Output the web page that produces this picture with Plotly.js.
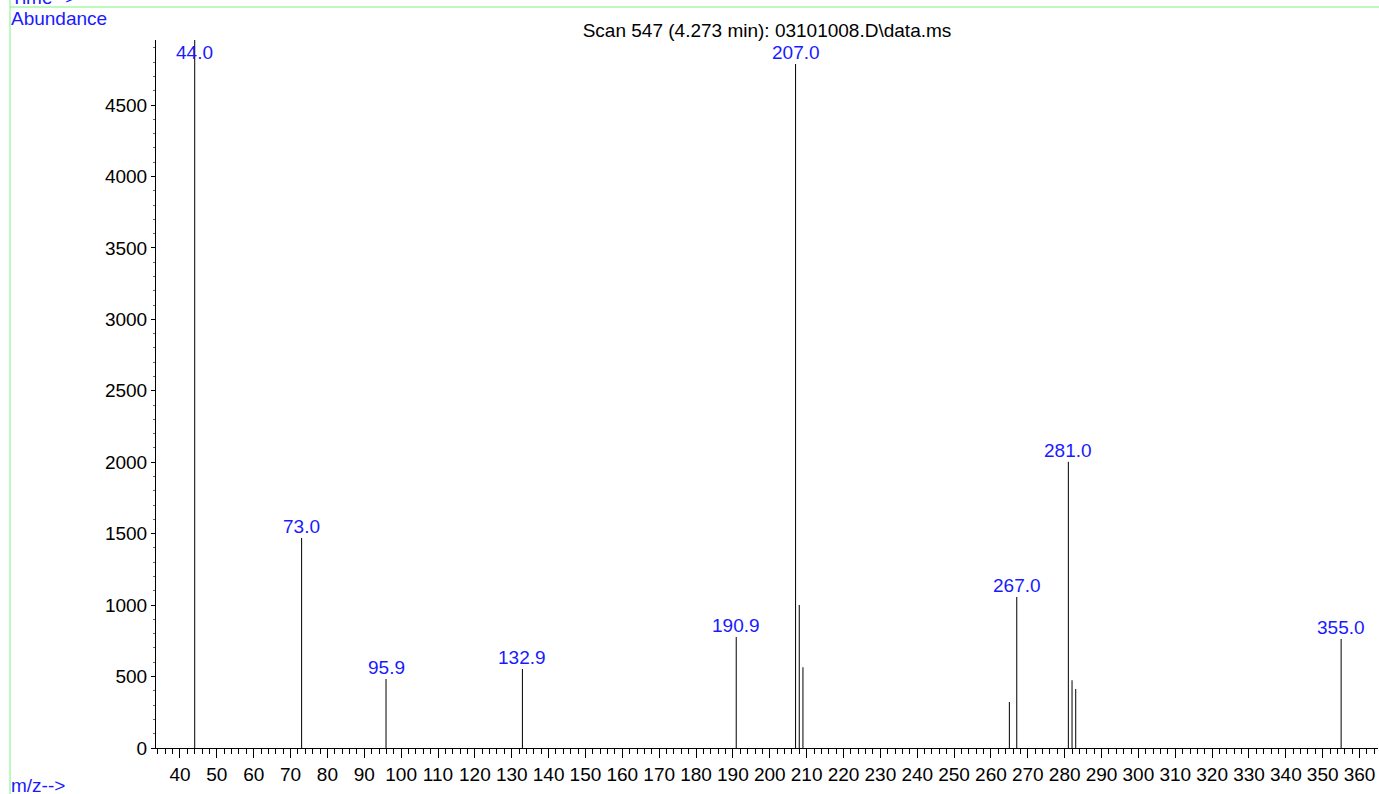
<!DOCTYPE html>
<html>
<head>
<meta charset="utf-8">
<script src="https://cdn.plot.ly/plotly-3.0.1.min.js"></script>
<style>
  html, body { margin: 0; padding: 0; background: #fff; }
  #chart { width: 1379px; height: 794px; }
</style>
</head>
<body>
<div id="chart"></div>
<script>
// Peak list (m/z, abundance)
const mz = [44.0, 73.0, 95.9, 132.9, 190.9, 207.0, 208.0, 209.0, 265.0, 267.0, 281.0, 282.0, 283.0, 355.0];
const abundance = [4955, 1470, 483, 553, 777, 4787, 1001, 565, 322, 1057, 2003, 474, 413, 763];
const labelled = [44.0, 73.0, 95.9, 132.9, 190.9, 207.0, 267.0, 281.0, 355.0];
const yTicks = [0, 500, 1000, 1500, 2000, 2500, 3000, 3500, 4000, 4500];
const xTicks = [40, 50, 60, 70, 80, 90, 100, 110, 120, 130, 140, 150, 160, 170, 180, 190, 200,
                210, 220, 230, 240, 250, 260, 270, 280, 290, 300, 310, 320, 330, 340, 350, 360];

const W = 1379, H = 794;
const M = {l: 156, r: 1, t: 40, b: 46};
const FONT = 'Liberation Sans, Arial, sans-serif';
const FS = 19;
const BLUE = '#1a1aff';
const GREEN = '#7cf27c';

// pixel -> paper helpers for the decorations outside the plot
const px = x => (x - M.l) / (W - M.l - M.r);
const py = y => (H - M.b - y) / (H - M.t - M.b);

// stick spectrum: one vertical segment per peak
const xs = mz.flatMap(m => [m, m, null]);
const ys = abundance.flatMap(a => [0, a, null]);

const yMax = 4955;
const labelCap = 4790;

const peakLabels = labelled.map(m => {
    const a = abundance[mz.indexOf(m)];
    return {
        x: m, y: Math.min(a, labelCap),
        xref: 'x', yref: 'y',
        text: m.toFixed(1),
        showarrow: false,
        xanchor: 'center', yanchor: 'bottom', yshift: -1,
        font: {family: FONT, size: FS, color: BLUE}
    };
});

const textNotes = [
    {text: 'Time-->', x: px(9), y: py(-3)},
    {text: 'Abundance', x: px(9), y: py(18)},
    {text: 'm/z-->', x: px(9), y: py(785)}
].map(n => Object.assign({
    xref: 'paper', yref: 'paper', showarrow: false,
    xanchor: 'left', yanchor: 'middle',
    font: {family: FONT, size: FS, color: BLUE}
}, n));

Plotly.newPlot('chart', [{
    x: xs,
    y: ys,
    type: 'scatter',
    mode: 'lines',
    line: {color: '#000', width: 1},
    hoverinfo: 'skip',
    showlegend: false
}], {
    width: W,
    height: H,
    margin: M,
    paper_bgcolor: '#fff',
    plot_bgcolor: '#fff',
    font: {family: FONT, size: FS, color: '#000'},
    title: {
        text: 'Scan 547 (4.273 min): 03101008.D\\data.ms',
        x: 0.5, xref: 'paper', xanchor: 'center',
        y: 1 - 30 / H, yanchor: 'middle',
        font: {family: FONT, size: FS, color: '#000'}
    },
    xaxis: {
        range: [33.5, 365],
        tickmode: 'array',
        tickvals: xTicks,
        ticktext: xTicks.map(String),
        ticks: 'outside', ticklen: 9, tickwidth: 1, tickcolor: '#000',
        minor: {dtick: 2, tick0: 0, ticks: 'outside', ticklen: 5, tickwidth: 1, tickcolor: '#000', showgrid: false},
        showline: true, linecolor: '#000', linewidth: 1,
        showgrid: false, zeroline: false,
        tickfont: {family: FONT, size: FS, color: '#000'}
    },
    yaxis: {
        range: [0, yMax],
        tickmode: 'array',
        tickvals: yTicks,
        ticktext: yTicks.map(String),
        ticks: 'outside', ticklen: 4, tickwidth: 1, tickcolor: '#000',
        minor: {dtick: 100, tick0: 0, ticks: 'outside', ticklen: 2, tickwidth: 1, tickcolor: '#666', showgrid: false},
        showline: true, linecolor: '#000', linewidth: 1,
        showgrid: false, zeroline: false,
        tickfont: {family: FONT, size: FS, color: '#000'}
    },
    shapes: [
        {type: 'line', xref: 'paper', yref: 'paper', x0: px(10), x1: px(10), y0: py(0), y1: py(H),
         line: {color: GREEN, width: 1}},
        {type: 'line', xref: 'paper', yref: 'paper', x0: px(10), x1: px(W), y0: py(7), y1: py(7),
         line: {color: GREEN, width: 1}}
    ],
    annotations: peakLabels.concat(textNotes)
}, {staticPlot: true});
</script>
</body>
</html>
